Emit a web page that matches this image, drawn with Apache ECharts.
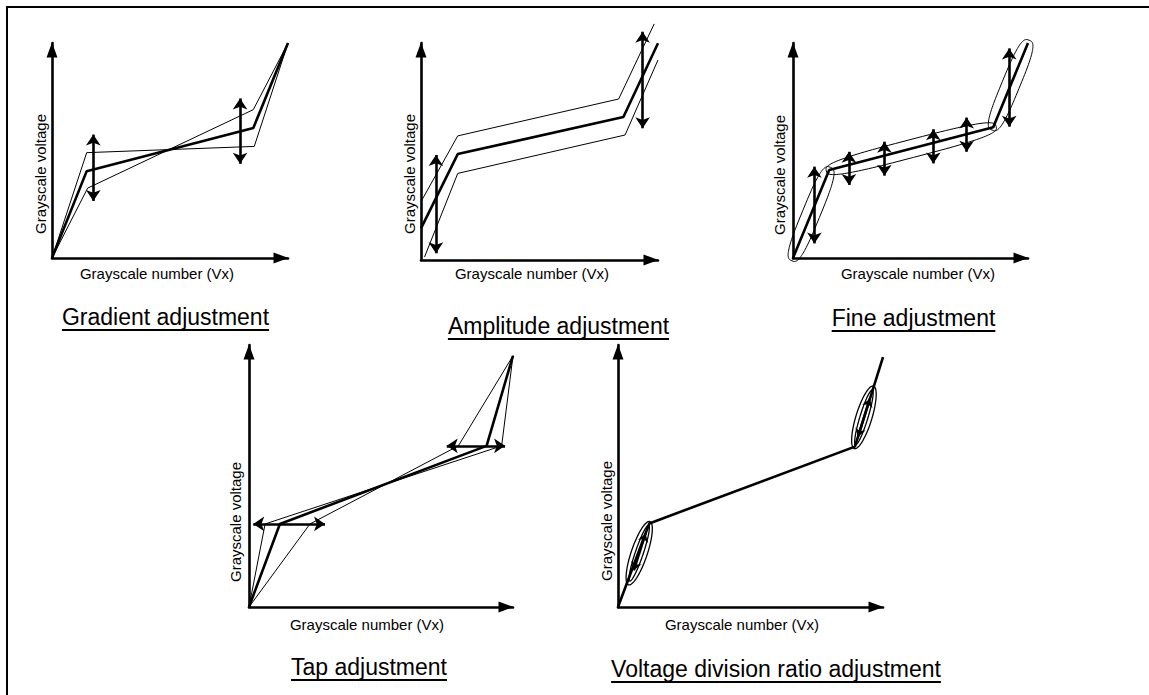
<!DOCTYPE html>
<html>
<head>
<meta charset="utf-8">
<script src="https://cdn.jsdelivr.net/npm/echarts@6.0.0/dist/echarts.min.js"></script>
<style>
  html, body { margin: 0; padding: 0; background: #fff; }
  #chart { width: 1149px; height: 695px; }
</style>
</head>
<body>
<div id="chart"></div>
<script>
const FONT = '"Liberation Sans", Arial, sans-serif'
const xName = 'Grayscale number (Vx)'
const yName = 'Grayscale voltage'
const titles = ['Gradient adjustment', 'Amplitude adjustment', 'Fine adjustment', 'Tap adjustment', 'Voltage division ratio adjustment']

// gradient adjustment (0..100 on both axes)
const gradBold = [[0, 0], [14.7, 40.4], [85.3, 60.5], [100, 100]]
const gradUpper = [[0, 0], [14.7, 49.0], [85.7, 51.9], [100, 100]]
const gradLower = [[0, 0], [15.1, 32.5], [85.3, 69.0], [100, 100]]
const gradArrowX = [17.5, 79.7]
const gradArrowLo = [26.5, 43.8]
const gradArrowHi = [57.4, 74.2]

// amplitude adjustment
const ampBold = [[0, 14.6], [15.5, 48.8], [85.4, 65.9], [100, 99.9]]
const ampUpper = [[0, 26.9], [15.5, 57.2], [83.4, 74.2], [98.4, 108.8]]
const ampLower = [[1.5, 1.4], [15.5, 39.9], [86.1, 57.6], [100, 92.2]]
const ampArrowX = [6.3, 93.5]
const ampArrowLo = [3.1, 60.7]
const ampArrowHi = [48.4, 105.2]

// fine adjustment
const fineBold = [[0, 0], [15.4, 40.9], [85.2, 60.8], [100, 100]]
const fineLoops = [[0, 0, 15.4, 40.9], [15.4, 40.9, 85.2, 60.8], [85.2, 60.8, 100, 100]]
const fineArrowX = [9.1, 23.8, 38.9, 59.7, 73.9, 92.0]
const fineArrowLo = [6.8, 34.0, 38.3, 44.0, 49.4, 61.1]
const fineArrowHi = [42.5, 49.4, 54.1, 59.9, 65.3, 97.5]

// tap adjustment
const tapBold = [[0, 0], [11.7, 31.7], [90.0, 61.5], [100, 95.9]]
const tapA = [[0, 0], [6.1, 31.7], [95.7, 61.5], [100, 95.9]]
const tapB = [[0, 0], [23.1, 31.7], [79.3, 61.5], [100, 95.9]]
const tapArrowY = [31.7, 61.5]
const tapArrowFrom = [1.6, 74.9]
const tapArrowTo = [28.8, 97.0]

// voltage division ratio adjustment
const divBold = [[0, 0], [11.8, 31.9], [89.4, 61.2], [100, 95.4]]
const divLoops = [[4.2, 9.2, 11.8, 31.9], [89.4, 61.2, 96.2, 83.6]]
const divArrows = [[[6.0, 14.0], [10.4, 28.0]], [[90.6, 65.0], [95.0, 79.5]]]

const panels = [
  { left: 52, top: 43, width: 236, height: 215, xl: [157, 273], yl: [40, 174], tt: [165.5, 317], ul: 330 },
  { left: 421, top: 43, width: 237, height: 217, xl: [532, 273], yl: [409, 174], tt: [558.5, 326], ul: 339 },
  { left: 793, top: 43, width: 235, height: 215, xl: [918, 273], yl: [779, 175], tt: [913.5, 318], ul: 331 },
  { left: 249, top: 345, width: 264, height: 262, xl: [367, 624], yl: [235, 522], tt: [369, 667], ul: 680 },
  { left: 618, top: 345, width: 265, height: 262, xl: [742, 624], yl: [606, 521], tt: [776, 669], ul: 682 }
]

function curve(i, data, bold) {
  return {
    type: 'line', xAxisIndex: i, yAxisIndex: i, data: data, symbol: 'none', clip: false, silent: true,
    lineStyle: { color: '#000', width: bold ? 2.6 : 1 }
  }
}

function arrows(i, segs, width, size) {
  return {
    type: 'lines', coordinateSystem: 'cartesian2d', xAxisIndex: i, yAxisIndex: i, clip: false, silent: true,
    symbol: ['arrow', 'arrow'], symbolSize: size,
    lineStyle: { color: '#000', width: width, opacity: 1, curveness: 0 },
    data: segs.map(function (s) { return { coords: s } })
  }
}

function vSegs(xs, lo, hi) {
  return xs.map(function (x, k) { return [[x, lo[k]], [x, hi[k]]] })
}

function hSegs(ys, from, to) {
  return ys.map(function (y, k) { return [[from[k], y], [to[k], y]] })
}

// closed loop drawn around a segment, given in data units
function loops(i, segs, halfW, ext, power, width) {
  return {
    type: 'custom', xAxisIndex: i, yAxisIndex: i, clip: false, silent: true,
    data: segs, encode: { x: [0, 2], y: [1, 3] },
    renderItem: function (params, api) {
      const a = api.coord([api.value(0), api.value(1)])
      const b = api.coord([api.value(2), api.value(3)])
      const cx = (a[0] + b[0]) / 2
      const cy = (a[1] + b[1]) / 2
      const ang = Math.atan2(b[1] - a[1], b[0] - a[0])
      const len = Math.hypot(b[0] - a[0], b[1] - a[1]) / 2 + ext
      const pts = []
      for (let k = 0; k < 120; k++) {
        const t = k / 120 * Math.PI * 2
        const c = Math.cos(t)
        const s = Math.sin(t)
        const u = Math.sign(c) * Math.pow(Math.abs(c), 2 / power) * len
        const v = Math.sign(s) * Math.pow(Math.abs(s), 2 / power) * halfW
        pts.push([cx + u * Math.cos(ang) - v * Math.sin(ang), cy + u * Math.sin(ang) + v * Math.cos(ang)])
      }
      return { type: 'polygon', shape: { points: pts }, style: { fill: 'none', stroke: '#000', lineWidth: width } }
    }
  }
}

const axisLine = {
  show: true, onZero: false, symbol: ['none', 'triangle'], symbolSize: [11, 15], symbolOffset: [0, -7],
  lineStyle: { color: '#000', width: 2.6 }
}
function axis(i) {
  return {
    gridIndex: i, type: 'value', min: 0, max: 100, axisLine: axisLine,
    axisTick: { show: false }, axisLabel: { show: false }, splitLine: { show: false }
  }
}

const measure = document.createElement('canvas').getContext('2d')
measure.font = '23px ' + FONT

// frame: only top and left edges fall inside the picture
const graphic = [{
  type: 'rect', shape: { x: 7, y: 7, width: 1150, height: 700 },
  style: { fill: 'none', stroke: '#000', lineWidth: 2 }
}]
panels.forEach(function (p, i) {
  graphic.push({
    type: 'text', x: p.xl[0], y: p.xl[1],
    style: { text: xName, font: '15px ' + FONT, fill: '#000', align: 'center', verticalAlign: 'middle' }
  })
  graphic.push({
    type: 'text', x: p.yl[0], y: p.yl[1], rotation: Math.PI / 2,
    style: { text: yName, font: '15px ' + FONT, fill: '#000', align: 'center', verticalAlign: 'middle' }
  })
  graphic.push({
    type: 'text', x: p.tt[0], y: p.tt[1],
    style: { text: titles[i], font: '23px ' + FONT, fill: '#000', align: 'center', verticalAlign: 'middle' }
  })
  const w = measure.measureText(titles[i]).width
  graphic.push({
    type: 'line', shape: { x1: p.tt[0] - w / 2, y1: p.ul, x2: p.tt[0] + w / 2, y2: p.ul },
    style: { stroke: '#000', lineWidth: 2 }
  })
})

const option = {
  backgroundColor: '#fff',
  animation: false,
  grid: panels.map(function (p) {
    return { left: p.left, top: p.top, width: p.width, height: p.height, containLabel: false, outerBoundsMode: 'none' }
  }),
  xAxis: panels.map(function (p, i) { return axis(i) }),
  yAxis: panels.map(function (p, i) { return axis(i) }),
  graphic: graphic,
  series: [
    curve(0, gradUpper, false), curve(0, gradLower, false), curve(0, gradBold, true),
    arrows(0, vSegs(gradArrowX, gradArrowLo, gradArrowHi), 2.6, 11),

    curve(1, ampUpper, false), curve(1, ampLower, false), curve(1, ampBold, true),
    arrows(1, vSegs(ampArrowX, ampArrowLo, ampArrowHi), 2.6, 11),

    loops(2, fineLoops, 9, 3, 3.2, 1),
    curve(2, fineBold, true),
    arrows(2, vSegs(fineArrowX, fineArrowLo, fineArrowHi), 2.6, 11),

    curve(3, tapA, false), curve(3, tapB, false), curve(3, tapBold, true),
    arrows(3, hSegs(tapArrowY, tapArrowFrom, tapArrowTo), 2.6, 11),

    loops(4, divLoops, 8, 2, 2, 1.3),
    loops(4, divLoops, 4, -2, 2, 1.3),
    curve(4, divBold, true),
    arrows(4, divArrows, 2.4, 8)
  ]
}

const chart = echarts.init(document.getElementById('chart'), null, { renderer: 'svg' })
chart.setOption(option)
window.addEventListener('resize', function () { chart.resize() })
</script>
</body>
</html>
